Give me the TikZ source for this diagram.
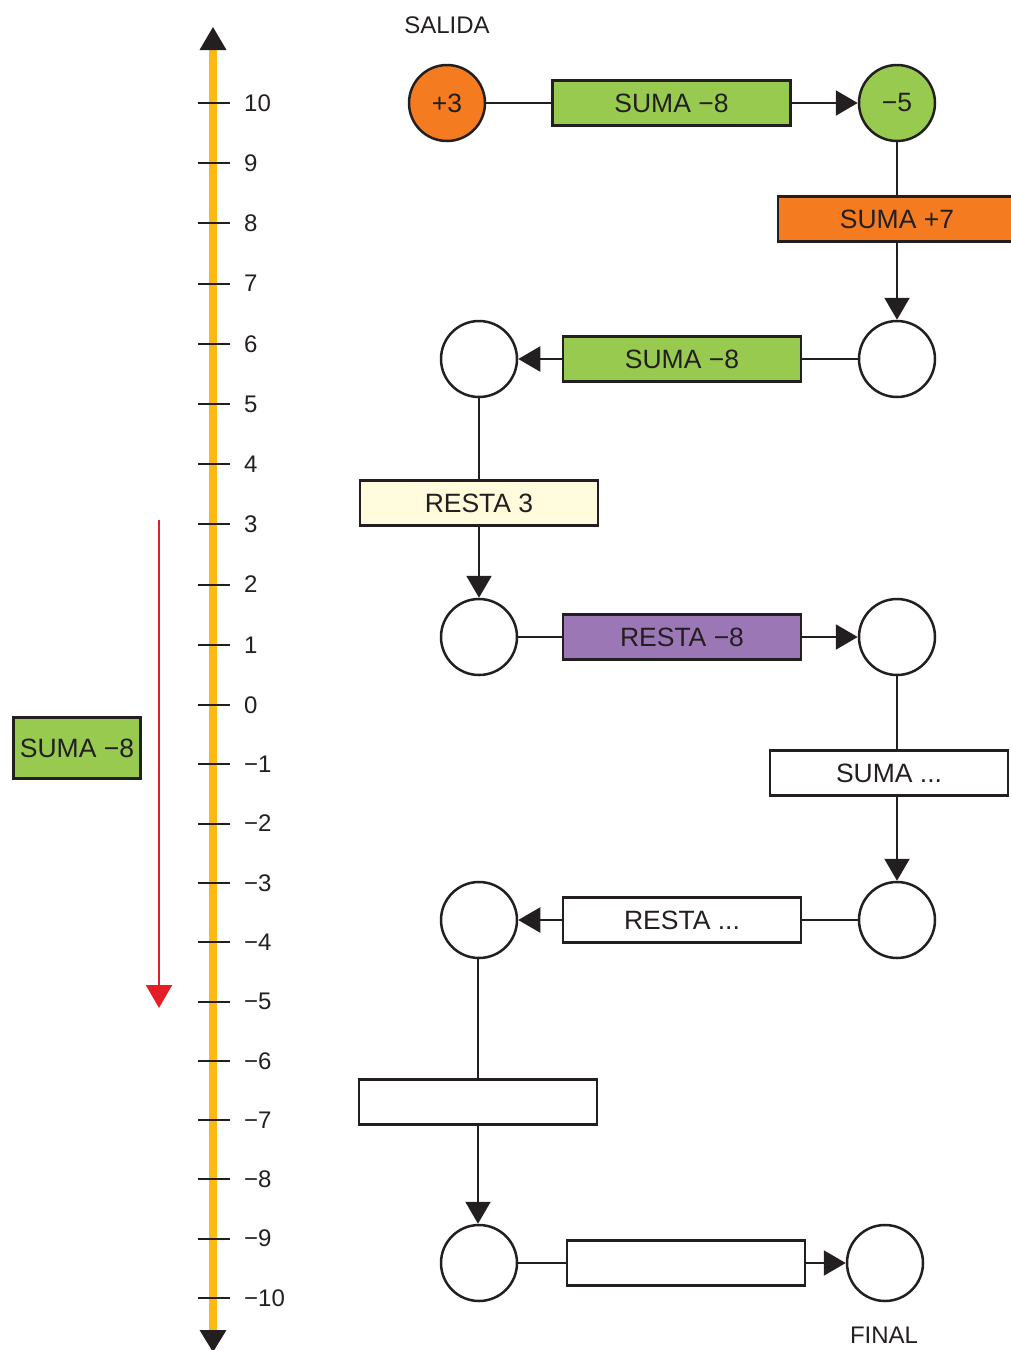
\documentclass[tikz,border=0pt]{standalone}
\usepackage{fontspec}
\setmainfont{Liberation Sans}
\usetikzlibrary{arrows.meta}
\definecolor{naranja}{HTML}{F47B20}
\definecolor{verde}{HTML}{97CA4F}
\definecolor{lila}{HTML}{9B77B5}
\definecolor{crema}{HTML}{FFFBDC}
\definecolor{amarillo}{HTML}{FDB913}
\definecolor{rojo}{HTML}{E31E24}
\definecolor{tinta}{HTML}{231F20}

\begin{document}
\begin{tikzpicture}[x=1pt,y=-1pt,
	every node/.style={font=\fontsize{24}{28}\selectfont,text=tinta},
	num/.style={circle,draw=tinta,line width=2.5pt,minimum size=76pt,inner sep=0pt,font=\fontsize{26.5}{30}\selectfont},
	op/.style={draw=tinta,line width=2.5pt,minimum width=238pt,minimum height=45pt,inner sep=0pt,font=\fontsize{26.5}{30}\selectfont},
	lnk/.style={draw=tinta,line width=2.2pt},
	arr/.style={lnk,-{Triangle[length=22pt,width=25pt]}}]
	\useasboundingbox (0,0) rectangle (1010,1350);
	% recta numerica
	\coordinate (ejeA) at (213,50);
	\coordinate (ejeB) at (213,1330);
	\draw[amarillo,line width=8pt] (ejeA) -- (ejeB);
	\fill[tinta] (213,27) -- (226.5,50) -- (199.5,50) -- cycle;
	\fill[tinta] (213,1352) -- (226.5,1330) -- (199.5,1330) -- cycle;
	\foreach \k in {-10,...,10}{
		\pgfmathsetmacro{\yk}{\k>0 ? 705-60.2*\k : 705-59.3*\k}
		\pgfmathtruncatemacro{\ak}{abs(\k)}
		\draw[tinta,line width=2pt] (198,\yk) -- (230,\yk);
		\node[anchor=west,inner sep=0pt] (n\ak\ifnum\k<0 m\fi) at (244,\yk) {\ifnum\k<0 −\fi\ak};
	}
	% salto
	\coordinate (desde) at (159,520);
	\coordinate (hasta) at (159,1008);
	\draw[rojo,line width=2pt,-{Triangle[length=23pt,width=26pt]}] (desde) -- (hasta);
	\node[op,fill=verde,minimum width=127pt,minimum height=61pt] (nota) at (77,748) {SUMA −8};
	% cadena de operaciones
	\node (salida) at (447,25) {SALIDA};
	\node[num,fill=naranja] (c1) at (447,103) {+3};
	\node[op,fill=verde] (o1) at (671.5,103) {SUMA −8};
	\node[num,fill=verde] (c2) at (897,103) {−5};
	\node[op,fill=naranja] (o2) at (897,219) {SUMA +7};
	\node[num] (c3) at (897,359) {};
	\node[op,fill=verde] (o3) at (682,359) {SUMA −8};
	\node[num] (c4) at (479,359) {};
	\node[op,fill=crema] (o4) at (479,503) {RESTA 3};
	\node[num] (c5) at (479,637) {};
	\node[op,fill=lila] (o5) at (682,637) {RESTA −8};
	\node[num] (c6) at (897,637) {};
	\node[op,fill=white] (o6) at (889,773) {SUMA ...};
	\node[num] (c7) at (897,920) {};
	\node[op,fill=white] (o7) at (682,920) {RESTA ...};
	\node[num] (c8) at (479,920) {};
	\node[op,fill=white] (o8) at (478,1102) {};
	\node[num] (c9) at (479,1263) {};
	\node[op,fill=white] (o9) at (686,1263) {};
	\node[num] (c10) at (885,1263) {};
	\node (final) at (884,1335) {FINAL};
	\path[lnk] (c1) -- (o1);
	\path[arr] (o1) -- (c2);
	\path[lnk] (c2) -- (o2);
	\path[arr] (o2) -- (c3);
	\path[lnk] (c3) -- (o3);
	\path[arr] (o3) -- (c4);
	\path[lnk] (c4) -- (o4);
	\path[arr] (o4) -- (c5);
	\path[lnk] (c5) -- (o5);
	\path[arr] (o5) -- (c6);
	\path[lnk] (c6) -- (c6 |- o6.north);
	\path[arr] (c7 |- o6.south) -- (c7);
	\path[lnk] (c7) -- (o7);
	\path[arr] (o7) -- (c8);
	\path[lnk] (c8.south -| o8.north) -- (o8);
	\path[arr] (o8) -- (c9.north -| o8.south);
	\path[lnk] (c9) -- (o9);
	\path[arr] (o9) -- (c10);
\end{tikzpicture}
\end{document}
